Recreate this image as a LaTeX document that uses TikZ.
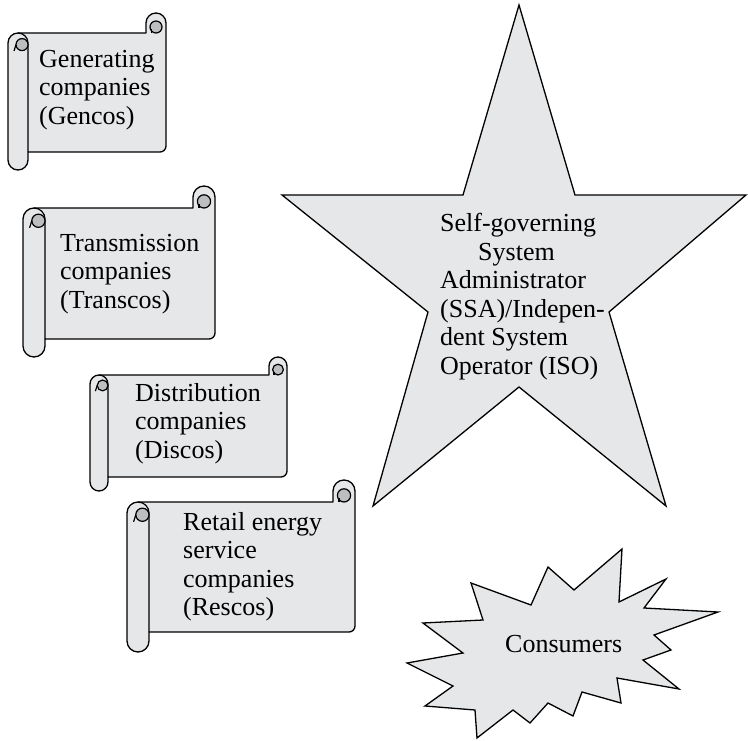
\documentclass[tikz,border=0pt]{standalone}
\usepackage{fontspec}
\setmainfont{Liberation Serif}
\definecolor{shapefill}{HTML}{E6E7E8}
\definecolor{curlgray}{HTML}{BDBEC0}
\tikzset{
  shapeline/.style={draw=black, line width=1.3pt, fill=shapefill},
  innerline/.style={draw=black, line width=1.2pt},
  curlshape/.style={draw=black, line width=1.2pt, fill=curlgray},
  txt/.style={inner sep=0pt, anchor=north west, align=left, font=\fontsize{26}{28.5}\selectfont},
}
% #1 L, #2 T, #3 R, #4 B, #5 tube bottom, #6 tube width, #7 curl radius
\newcommand\myscroll[7]{%
  \pgfmathsetmacro\hw{#6/2}%
  \path[shapeline, line join=round] ({#1+#6/2},#2) -- ({#3-2*#7},#2) -- ({#3-2*#7},{#2-#7})
    arc[start angle=180,end angle=0,radius=#7 pt] -- (#3,{#4-6})
    arc[start angle=0,end angle=-90,radius=6pt] -- ({#1+#6},#4) -- ({#1+#6},{#5-#6/2})
    arc[start angle=0,end angle=-180,radius=\hw pt] -- (#1,{#2+#6/2})
    arc[start angle=180,end angle=90,radius=\hw pt] -- cycle;
  \draw[innerline] ({#1+#6/2},#2) arc[start angle=90,end angle=0,radius=\hw pt] -- ({#1+#6},#4);
  \filldraw[curlshape] ({#1+0.7*#6},{#2+0.58*#6}) circle[radius={0.3*#6 pt}];
  \draw[innerline] ({#1+0.4*#6},{#2+0.58*#6}) .. controls ({#1+0.38*#6},{#2+0.75*#6}) .. ({#1+0.3*#6},{#2+0.9*#6});
  \filldraw[curlshape] ({#3-#7},{#2-0.6*#7}) circle[radius={0.6*#7 pt}];
  \draw[innerline] ({#3-1.45*#7},#2) -- ({#3-1.45*#7},{#2-0.35*#7});
}
\begin{document}
\begin{tikzpicture}[x=1pt,y=-1pt]
\useasboundingbox (0,0) rectangle (748,741);
% scrolls
\myscroll{8}{33}{166}{152}{170}{20}{10}
\myscroll{23}{208}{215}{339}{357}{22}{11}
\myscroll{90}{375}{287}{477}{491}{18}{9}
\myscroll{127}{502}{355}{632}{652}{22}{11}
% star
\path[shapeline] (519,5) -- (575,195) -- (746,195) -- (609,312) -- (666,506) -- (519,387)
  -- (373,506) -- (428,312) -- (282,195) -- (463,195) -- cycle;
% burst
\path[shapeline] (407,663) -- (463,653) -- (423,623) -- (483,620) -- (471,583) -- (531,605)
  -- (548,567) -- (574,590) -- (622,549) -- (619,602) -- (666,579) -- (644,608) -- (718,612)
  -- (654,635) -- (671,650) -- (643,660) -- (679,689) -- (617,678) -- (621,703) -- (582,692)
  -- (573,716) -- (548,703) -- (530,723) -- (513,710) -- (477,738) -- (475,710) -- (425,706)
  -- (453,686) -- cycle;
% texts
\node[txt] (gencos) at (39,50) {Generating\\companies\\(Gencos)};
\node[txt] (transcos) at (60,234) {Transmission\\companies\\(Transcos)};
\node[txt] (discos) at (135,383) {Distribution\\companies\\(Discos)};
\node[txt] (rescos) at (183,512) {Retail energy\\service\\companies\\(Rescos)};
\node[txt] (ssa) at (440,213) {Self-governing\\\hspace*{38pt}System\\Administrator\\(SSA)/Indepen-\\dent System\\Operator (ISO)};
\node[txt] (consumers) at (505,635) {Consumers};
\end{tikzpicture}
\end{document}
